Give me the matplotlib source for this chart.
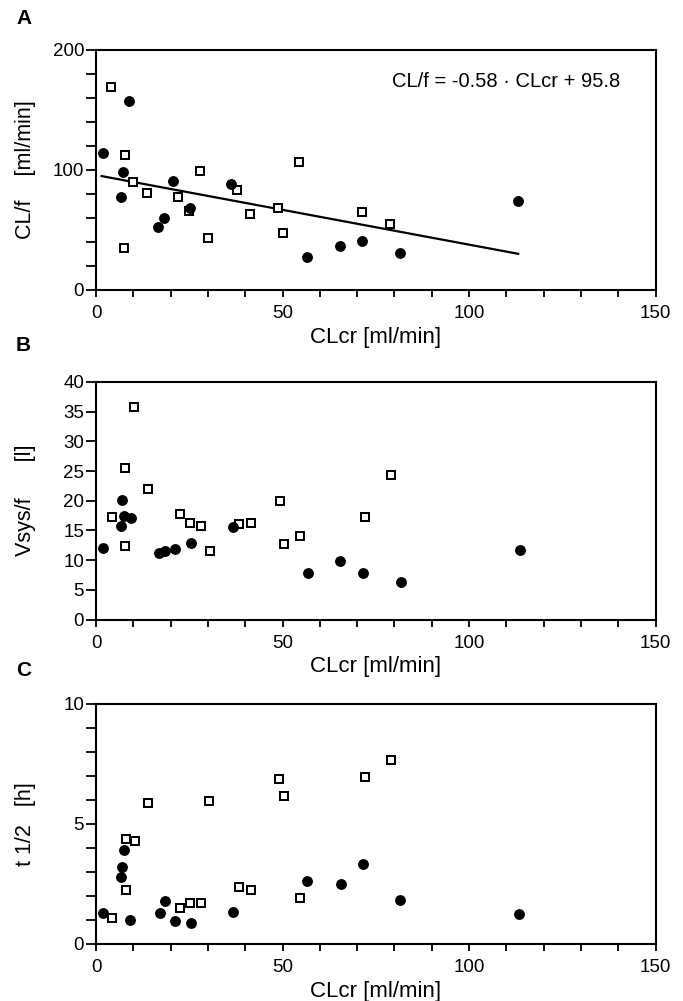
import matplotlib
matplotlib.use("Agg")
import matplotlib.pyplot as plt
import numpy as np
from matplotlib.ticker import MultipleLocator

plt.rcParams['font.family'] = ['Liberation Sans', 'DejaVu Sans']

# Panel A: CL/f [ml/min]
a_circ_x = [1.9, 6.6, 7.2, 8.9, 16.6, 18.2, 20.7, 25.2, 36.1, 56.6, 65.3, 71.4, 81.5, 113.2]
a_circ_y = [114.2, 77.4, 98.0, 157.7, 52.4, 60.2, 90.8, 68.0, 88.0, 27.3, 36.8, 41.2, 30.6, 74.1]
a_sq_x = [4.1, 7.8, 7.5, 9.9, 13.6, 22.1, 24.8, 27.8, 30.0, 37.8, 41.2, 48.9, 50.1, 54.4, 71.4, 78.8]
a_sq_y = [168.8, 112.8, 35.4, 90.3, 81.1, 77.4, 65.5, 99.2, 43.5, 83.6, 63.5, 68.5, 47.9, 107.0, 65.2, 54.6]
fit_slope, fit_intercept = -0.58, 95.8
fit_range = [1.5, 113.2]

# Panel B: Vsys/f [l]
b_circ_x = [1.9, 6.9, 7.4, 6.8, 9.5, 16.8, 18.6, 21.3, 25.5, 36.7, 56.9, 65.5, 71.5, 81.8, 113.6]
b_circ_y = [12.0, 20.1, 17.5, 15.8, 17.1, 11.2, 11.6, 11.9, 12.9, 15.5, 7.8, 9.8, 7.8, 6.3, 11.7]
b_sq_x = [4.4, 7.9, 7.9, 10.2, 14.0, 22.4, 25.3, 28.1, 30.5, 38.4, 41.5, 49.3, 50.5, 54.8, 72.0, 79.2]
b_sq_y = [17.2, 25.6, 12.4, 35.8, 22.0, 17.8, 16.3, 15.7, 11.6, 16.1, 16.2, 19.9, 12.7, 14.0, 17.3, 24.3]

# Panel C: t1/2 [h]
c_circ_x = [1.9, 7.4, 6.9, 6.8, 9.2, 17.1, 18.4, 21.1, 25.6, 36.7, 56.7, 65.6, 71.5, 81.6, 113.5]
c_circ_y = [1.28, 3.92, 3.22, 2.80, 0.98, 1.28, 1.79, 0.95, 0.86, 1.34, 2.64, 2.50, 3.33, 1.85, 1.23]
c_sq_x = [4.4, 8.0, 8.0, 10.4, 13.9, 22.4, 25.3, 28.1, 30.2, 38.4, 41.5, 49.1, 50.5, 54.8, 72.0, 79.2]
c_sq_y = [1.07, 4.38, 2.27, 4.28, 5.89, 1.48, 1.70, 1.70, 5.96, 2.38, 2.27, 6.89, 6.18, 1.91, 6.97, 7.67]

W, H = 683, 1001
fig = plt.figure(figsize=(W / 100, H / 100), dpi=100)
LEFT, RIGHT = 96, 655.5

def ax_rect(top, bottom):
    return [LEFT / W, 1 - bottom / H, (RIGHT - LEFT) / W, (bottom - top) / H]

panels = [
    dict(top=50, bottom=290, cx=a_circ_x, cy=a_circ_y, sx=a_sq_x, sy=a_sq_y,
         ylim=(0, 200), major=100, minor=20, ylabel='CL/f    [ml/min]', letter='A', ly=18.5),
    dict(top=382, bottom=619.5, cx=b_circ_x, cy=b_circ_y, sx=b_sq_x, sy=b_sq_y,
         ylim=(0, 40), major=5, minor=5, ylabel='Vsys/f      [l]', letter='B', ly=345.5),
    dict(top=704, bottom=944, cx=c_circ_x, cy=c_circ_y, sx=c_sq_x, sy=c_sq_y,
         ylim=(0, 10), major=5, minor=1, ylabel='t 1/2   [h]', letter='C', ly=671),
]

tfs = 13.5
lfs = 16
for i, p in enumerate(panels):
    ax = fig.add_axes(ax_rect(p['top'], p['bottom']))
    hpx = p['bottom'] - p['top']
    wpx = RIGHT - LEFT
    ax.plot(p['sx'], p['sy'], linestyle='none', marker='s', ms=5.6, mfc='white',
            mec='black', mew=1.45, zorder=3)
    ax.plot(p['cx'], p['cy'], linestyle='none', marker='o', ms=6.8, mfc='black',
            mec='black', zorder=4)
    if i == 0:
        xs = np.array(fit_range)
        ax.plot(xs, fit_slope * xs + fit_intercept, color='black', lw=1.6, zorder=2)
        ax.text((620 - LEFT) / wpx, 1 - (81.5 - p['top']) / hpx,
                'CL/f = -0.58 · CLcr + 95.8', transform=ax.transAxes,
                ha='right', va='center', fontsize=14.5)
    ax.set_xlim(0, 150)
    ax.set_ylim(*p['ylim'])
    ax.xaxis.set_major_locator(MultipleLocator(50))
    ax.xaxis.set_minor_locator(MultipleLocator(10))
    ax.yaxis.set_major_locator(MultipleLocator(p['major']))
    ax.yaxis.set_minor_locator(MultipleLocator(p['minor']))
    ax.tick_params(which='both', direction='out', width=1.3, labelsize=tfs)
    ax.tick_params(axis='x', which='both', length=5, pad=6, top=False)
    ax.tick_params(axis='y', which='both', length=7, pad=1.5, right=False)
    for s in ax.spines.values():
        s.set_linewidth(1.5)
    ax.set_xlabel('CLcr [ml/min]', fontsize=lfs, va='center')
    ax.xaxis.set_label_coords(0.5, -47 / hpx)
    ax.set_ylabel(p['ylabel'], fontsize=15.5, va='center')
    ax.yaxis.set_label_coords((26 - LEFT) / wpx, 0.5)
    fig.text(16 / W, 1 - p['ly'] / H, p['letter'], fontsize=15, fontweight='bold',
             ha='left', va='center')

fig.savefig('out.png', dpi=100)
